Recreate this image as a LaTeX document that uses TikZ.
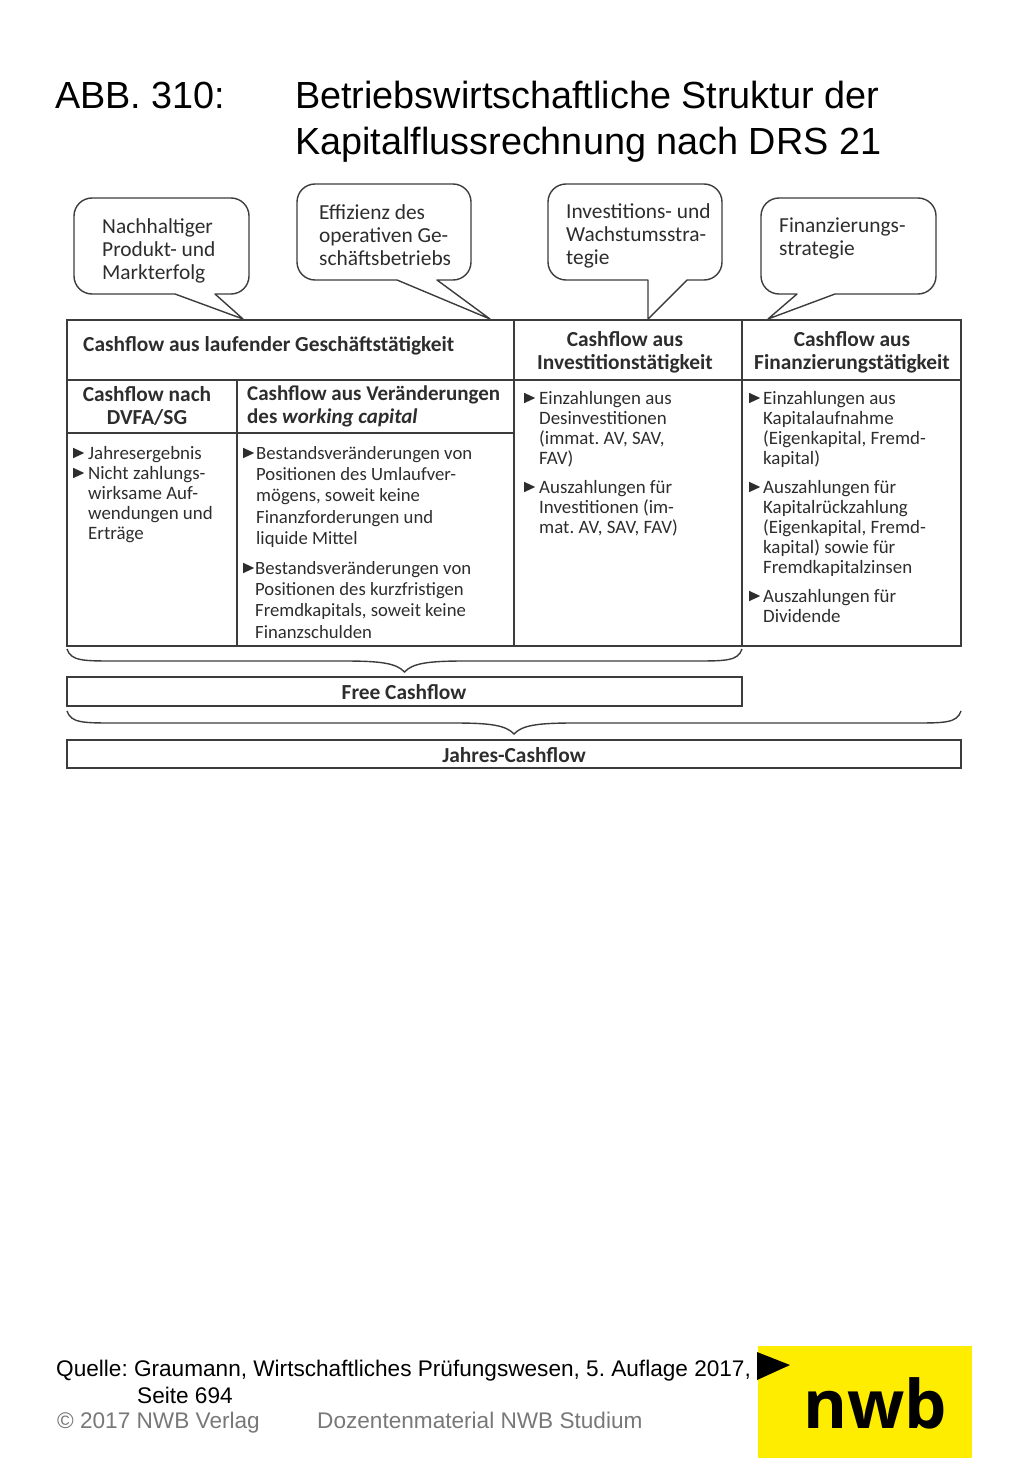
\documentclass[tikz,border=0pt]{standalone}
\usepackage{fontspec}
\setmainfont{Liberation Sans}
\newfontfamily\figfont{Carlito}
\newfontfamily\logofont{Open Sans}
\usetikzlibrary{calc, shapes.geometric}
\frenchspacing
\definecolor{linecol}{RGB}{60, 60, 60}
\definecolor{textcol}{RGB}{45, 45, 45}
\definecolor{footcol}{RGB}{120, 120, 120}
\definecolor{logocol}{RGB}{255, 237, 0}
\tikzset{
  title/.style   = {anchor=base west, inner sep=0pt, font=\fontsize{37.8}{46}\selectfont},
  foot/.style    = {anchor=base west, inner sep=0pt, font=\fontsize{22.6}{27}\selectfont},
  bubble/.style  = {draw=linecol, line width=1.4pt, line join=round},
  saytxt/.style  = {anchor=north west, inner sep=0pt, align=left, text=textcol,
                    font=\figfont\fontsize{21.4}{23}\selectfont},
  cell/.style    = {draw=linecol, line width=1.4pt, anchor=north west, inner sep=0pt,
                    outer sep=0pt},
  headtxt/.style = {inner sep=0pt, align=center, text=textcol,
                    font=\figfont\bfseries\fontsize{21.4}{23}\selectfont},
  itemtxt/.style = {anchor=north west, inner sep=0pt, align=left, text=textcol,
                    font=\figfont\fontsize{18.9}{20}\selectfont},
  widetxt/.style = {itemtxt, font=\figfont\fontsize{18.7}{21.3}\selectfont},
  bul/.style     = {isosceles triangle, isosceles triangle apex angle=50, fill=textcol,
                    inner sep=0pt, minimum height=11pt, minimum width=8pt, xshift=-2pt},
  brc/.style     = {draw=linecol, line width=1.4pt},
}
% curly bracket: #1 left end, #2 right end, #3 tip
\newcommand{\capbrace}[3]{%
  \draw[brc] (#1) .. controls ($(#1)+(4,12)$) and ($(#1)+(16,12)$) .. ($(#1)+(48,12)$)
    -- ($(#3)+(-60,-11)$) .. controls ($(#3)+(-25,-11)$) and ($(#3)+(-8,-9)$) .. (#3)
    .. controls ($(#3)+(8,-9)$) and ($(#3)+(25,-11)$) .. ($(#3)+(60,-11)$)
    -- ($(#2)+(-48,12)$) .. controls ($(#2)+(-16,12)$) and ($(#2)+(-4,12)$) .. (#2);}
\begin{document}
\begin{tikzpicture}[x=1pt, y=-1pt]
  \useasboundingbox (0,0) rectangle (1024,1479);

  %% ---------------- title ----------------
  \node[title] (abb) at (55,109) {ABB. 310:};
  \node[title] (t1) at (295,109) {Betriebswirtschaftliche Struktur der};
  \node[title] (t2) at (295,155) {Kapitalflussrechnung nach DRS 21};

  %% ---------------- speech bubbles ----------------
  \draw[bubble] (215,294) [rounded corners=18pt] -- (249,294) -- (249,198) -- (74,198)
       -- (74,294) [sharp corners] -- (175,294) -- (243,319) -- cycle;
  \draw[bubble] (437,280) [rounded corners=18pt] -- (471,280) -- (471,184) -- (297,184)
       -- (297,280) [sharp corners] -- (397,280) -- (490,319) -- cycle;
  \draw[bubble] (687,280) [rounded corners=18pt] -- (722,280) -- (722,184) -- (548,184)
       -- (548,280) [sharp corners] -- (648,280) -- (648,319) -- cycle;
  \draw[bubble] (835,294) [rounded corners=18pt] -- (936,294) -- (936,198) -- (761,198)
       -- (761,294) [sharp corners] -- (797,294) -- (768,319) -- cycle;

  \node[saytxt] (say1) at (102,218) {Nachhaltiger\\Produkt- und\\Markterfolg};
  \node[saytxt] (say2) at (319,204) {Effizienz des\\operativen Ge-\\schäftsbetriebs};
  \node[saytxt] (say3) at (566,203) {Investitions- und\\Wachstumsstra-\\tegie};
  \node[saytxt] (say4) at (779,218) {Finanzierungs-\\strategie};

  %% ---------------- table ----------------
  \node[cell, minimum width=447pt, minimum height=60pt] (oper) at (67,320) {};
  \node[cell, minimum width=228pt, minimum height=60pt] (inv) at (514,320) {};
  \node[cell, minimum width=219pt, minimum height=60pt] (fin) at (742,320) {};
  \node[cell, minimum width=170pt, minimum height=53pt] (dvfa) at (67,380) {};
  \node[cell, minimum width=277pt, minimum height=53pt] (wc) at (237,380) {};
  \node[cell, minimum width=170pt, minimum height=213pt] (dvfab) at (67,433) {};
  \node[cell, minimum width=277pt, minimum height=213pt] (wcb) at (237,433) {};
  \node[cell, minimum width=228pt, minimum height=266pt] (invb) at (514,380) {};
  \node[cell, minimum width=219pt, minimum height=266pt] (finb) at (742,380) {};

  \node[headtxt, anchor=west] (opertxt) at (83,346) {Cashflow aus laufender Geschäftstätigkeit};
  \node[headtxt] (invtxt) at (625,352) {Cashflow aus\\Investitionstätigkeit};
  \node[headtxt] (fintxt) at (852,352) {Cashflow aus\\Finanzierungstätigkeit};
  \node[headtxt] (dvfatxt) at (147,406) {Cashflow nach\\DVFA/SG};
  \node[headtxt, align=left, anchor=west, font=\figfont\bfseries\fontsize{21}{23}\selectfont]
       (wctxt) at (247,406) {Cashflow aus Veränderungen\\des \textit{working capital}};

  %% ---------------- table items ----------------
  \node[bul] (b1) at (78.5,453) {};
  \node[bul] (b2) at (78.5,473) {};
  \node[itemtxt] (i1) at (88,446) {Jahresergebnis\\Nicht zahlungs-\\wirksame Auf-\\wendungen und\\Erträge};

  \node[bul] (b3) at (248.5,453) {};
  \node[bul] (b4) at (248.5,568) {};
  \node[widetxt] (i2) at (256,446) {Bestandsveränderungen von\\Positionen des Umlaufver-\\mögens, soweit keine\\Finanzforderungen und\\liquide Mittel};
  \node[widetxt] (i3) at (255,561) {Bestandsveränderungen von\\Positionen des kurzfristigen\\Fremdkapitals, soweit keine\\Finanzschulden};

  \node[bul] (b5) at (529.5,398) {};
  \node[bul] (b6) at (529.5,487) {};
  \node[itemtxt] (i4) at (539,391) {Einzahlungen aus\\Desinvestitionen\\(immat. AV, SAV,\\FAV)};
  \node[itemtxt] (i5) at (539,480) {Auszahlungen für\\Investitionen (im-\\mat. AV, SAV, FAV)};

  \node[bul] (b7) at (754.5,398) {};
  \node[bul] (b8) at (754.5,487) {};
  \node[bul] (b9) at (754.5,596) {};
  \node[itemtxt] (i6) at (763,391) {Einzahlungen aus\\Kapitalaufnahme\\(Eigenkapital, Fremd-\\kapital)};
  \node[itemtxt] (i7) at (763,480) {Auszahlungen für\\Kapitalrückzahlung\\(Eigenkapital, Fremd-\\kapital) sowie für\\Fremdkapitalzinsen};
  \node[itemtxt] (i8) at (763,589) {Auszahlungen für\\Dividende};

  %% ---------------- the two totals ----------------
  \node[cell, minimum width=675pt, minimum height=29pt] (free) at (67,677) {};
  \node[headtxt] (freetxt) at (404,692) {Free Cashflow};
  \node[cell, minimum width=894pt, minimum height=28pt] (jahr) at (67,740) {};
  \node[headtxt] (jahrtxt) at (514,755) {Jahres-Cashflow};

  \coordinate (brA) at ($(dvfab.south west)+(0,3)$);
  \coordinate (brB) at ($(invb.south east)+(0,3)$);
  \coordinate (tipA) at ($(brA)!0.5!(brB)+(0,23)$);
  \coordinate (brC) at ($(free.south west)+(0,5)$);
  \coordinate (brD) at ($(finb.south east |- free.south)+(0,5)$);
  \coordinate (tipB) at ($(brC)!0.5!(brD)+(0,23)$);
  \capbrace{brA}{brB}{tipA}
  \capbrace{brC}{brD}{tipB}

  %% ---------------- footer and logo ----------------
  \node[foot] (src) at (56,1376) {Quelle: Graumann, Wirtschaftliches Prüfungswesen, 5. Auflage 2017,};
  \node[foot] (page) at (137,1403) {Seite 694};
  \node[foot, text=footcol] (copy) at (57,1428) {© 2017 NWB Verlag};
  \node[foot, text=footcol] (dozent) at (317,1428) {Dozentenmaterial NWB Studium};

  \node[fill=logocol, anchor=north west, minimum width=214pt, minimum height=112pt,
        inner sep=0pt] (logo) at (758,1346) {};
  \fill (757,1352) -- (790,1365) -- (757,1380) -- cycle;
  \node[anchor=base, inner sep=0pt, font=\logofont\bfseries\fontsize{67}{67}\selectfont]
       (nwb) at (875,1428) {nwb};
\end{tikzpicture}
\end{document}
